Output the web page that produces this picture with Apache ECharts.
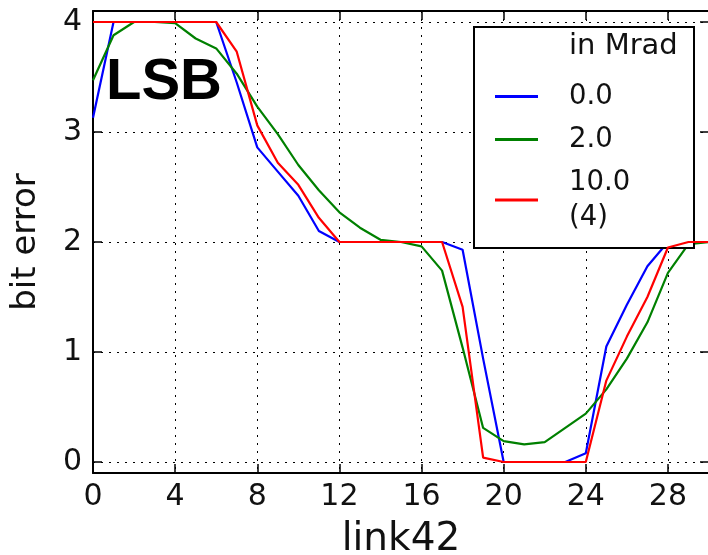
<!DOCTYPE html>
<html>
<head>
<meta charset="utf-8">
<script src="https://cdn.jsdelivr.net/npm/echarts@6/dist/echarts.min.js"></script>
<style>
  html, body { margin: 0; padding: 0; background: #fff; }
  #chart { width: 708px; height: 555px; }
</style>
</head>
<body>
<div id="chart"></div>
<script>
// link index along the x axis
const links = [0, 1, 2, 3, 4, 5, 6, 7, 8, 9, 10, 11, 12, 13, 14, 15, 16, 17, 18, 19, 20,
               21, 22, 23, 24, 25, 26, 27, 28, 29, 30];

// LSB bit error per link, one series per dose
const dose0 = [3.13, 4, 4, 4, 4, 4, 4, 3.45, 2.86, 2.64, 2.42, 2.1, 2, 2, 2, 2, 2, 2, 1.93, 0.94,
               0, 0, 0, 0, 0.08, 1.05, 1.43, 1.78, 2, 2, 2];
const dose2 = [3.47, 3.88, 4, 4, 3.99, 3.85, 3.76, 3.53, 3.23, 2.98, 2.7, 2.47, 2.27, 2.13, 2.02, 2,
               1.96, 1.74, 1.04, 0.31, 0.19, 0.16, 0.18, 0.31, 0.44, 0.66, 0.94, 1.27, 1.72, 1.98, 2];
const dose10 = [4, 4, 4, 4, 4, 4, 4, 3.73, 3.06, 2.72, 2.52, 2.22, 2, 2, 2, 2, 2, 2, 1.41, 0.04,
                0, 0, 0, 0, 0, 0.74, 1.14, 1.5, 1.95, 2, 2];

const seriesNames = ['0.0', '2.0', '10.0\n(4)'];
const seriesColors = ['#0000ff', '#008000', '#ff0000'];
const seriesData = [dose0, dose2, dose10];

const xTicks = [0, 4, 8, 12, 16, 20, 24, 28];
const yTicks = [0, 1, 2, 3, 4];

const FONT = 'DejaVu Sans';
const pairs = arr => links.map((x, i) => [x, arr[i]]);

const gridLine = { show: true, lineStyle: { color: '#000', width: 1, type: [2, 6] } };
const spine = { show: true, onZero: false, lineStyle: { color: '#000', width: 2 } };

function xAxisDef(pos, labels) {
  return {
    type: 'value', position: pos, min: 0, max: 30,
    axisLine: spine,
    axisTick: { show: true, inside: true, length: 9, customValues: xTicks, lineStyle: { color: '#000', width: 1.5 } },
    axisLabel: labels ? { show: true, customValues: xTicks, color: '#111', fontFamily: FONT, fontSize: 30, margin: 9 } : { show: false },
    splitLine: labels ? gridLine : { show: false },
    name: labels ? 'link42' : '',
    nameLocation: 'middle', nameGap: 47,
    nameTextStyle: { color: '#111', fontFamily: FONT, fontSize: 39 }
  };
}
function yAxisDef(pos, labels) {
  return {
    type: 'value', position: pos, min: -0.1, max: 4.1,
    axisLine: spine,
    axisTick: { show: true, inside: true, length: 9, customValues: yTicks, lineStyle: { color: '#000', width: 1.5 } },
    axisLabel: labels ? { show: true, customValues: yTicks, color: '#111', fontFamily: FONT, fontSize: 30, margin: 11 } : { show: false },
    splitLine: labels ? gridLine : { show: false },
    name: labels ? 'bit error' : '',
    nameLocation: 'middle', nameGap: 50,
    nameTextStyle: { color: '#111', fontFamily: FONT, fontSize: 34 }
  };
}

const chart = echarts.init(document.getElementById('chart'), null, { renderer: 'canvas' });
chart.setOption({
  animation: false,
  backgroundColor: '#fff',
  grid: { left: 93, right: -1, top: 11, bottom: 82, containLabel: false, outerBoundsMode: 'none' },
  xAxis: [xAxisDef('bottom', true), xAxisDef('top', false)],
  yAxis: [yAxisDef('left', true), yAxisDef('right', false)],
  legend: {
    orient: 'vertical',
    left: 474, top: 27,
    padding: [52, 12, 13, 21],
    itemGap: 8,
    itemWidth: 43, itemHeight: 3,
    icon: 'rect',
    backgroundColor: '#fff',
    borderColor: '#000', borderWidth: 2,
    data: seriesNames,
    textStyle: { color: '#111', fontFamily: FONT, fontSize: 27.5, lineHeight: 35, padding: [0, 0, 0, 26], width: 113 }
  },
  graphic: [
    { type: 'text', left: 569, top: 32, z: 100,
      style: { text: 'in Mrad', fill: '#111', font: '29px "DejaVu Sans"' } },
    { type: 'text', left: 106, top: 54, z: 100,
      style: { text: 'LSB', fill: '#000', font: 'bold 58px "Liberation Sans"' } }
  ],
  series: seriesNames.map((name, i) => ({
    name: name,
    type: 'line',
    data: pairs(seriesData[i]),
    showSymbol: false,
    symbol: 'none',
    lineStyle: { color: seriesColors[i], width: 2.2 },
    itemStyle: { color: seriesColors[i] },
    z: 2 + i
  }))
});
</script>
</body>
</html>
